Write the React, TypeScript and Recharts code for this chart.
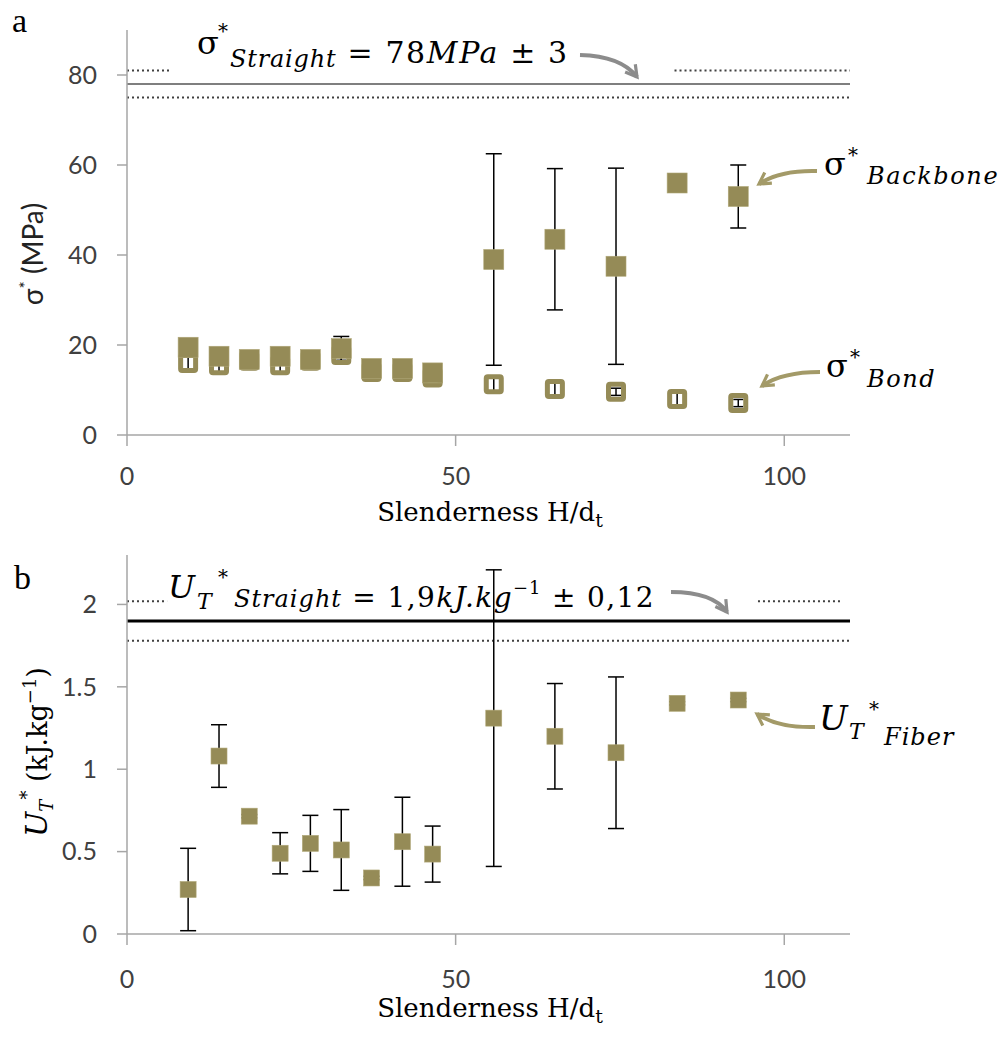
import {
  ErrorBar,
  ReferenceLine,
  Scatter,
  ScatterChart,
  XAxis,
  YAxis,
} from "recharts";

// slenderness H/dt of each specimen series
const slenderness = [9.3, 14.0, 18.6, 23.3, 27.9, 32.6, 37.2, 41.9, 46.5, 55.8, 65.1, 74.4, 83.7, 93.0];

// (a) strength, MPa
const backbone = [19.5, 17.5, 16.8, 17.5, 16.8, 19.2, 14.8, 14.8, 13.8, 39.0, 43.5, 37.5, 56.0, 53.0];
const backboneErr = [1.5, 0.8, 0.5, 0.8, 0.5, 2.7, 0.5, 0.5, 0.5, 23.5, 15.7, 21.8, 0.3, 7.0];
const bond = [16.0, 15.5, 16.5, 15.5, 16.5, 17.8, 14.0, 14.0, 12.8, 11.3, 10.2, 9.6, 8.0, 7.1];
const bondErr = [2.0, 1.5, 0.5, 1.5, 0.5, 1.2, 0.3, 0.3, 0.6, 1.5, 1.3, 0.8, 1.3, 0.8];

// (b) specific energy, kJ/kg
const fiber = [0.27, 1.08, 0.715, 0.49, 0.55, 0.51, 0.34, 0.56, 0.485, 1.31, 1.2, 1.1, 1.4, 1.42];
const fiberErr = [0.25, 0.19, 0.01, 0.125, 0.17, 0.245, 0.01, 0.27, 0.17, 0.9, 0.32, 0.46, 0.01, 0.01];

// straight reference samples (mean, std)
const sigmaStraight = 78;
const sigmaDev = 3;
const energyStraight = 1.9;
const energyDev = 0.12;

const xTicks = [0, 50, 100];
const sigmaTicks = [0, 20, 40, 60, 80];
const energyTicks = [0, 0.5, 1, 1.5, 2];

const GOLD = "#958b57";
const AXIS = { stroke: "#a6a6a6", strokeWidth: 1.5 };
const TICK = { fill: "#404040", fontSize: 25, fontFamily: "Lato" };
const DOT = { stroke: "#404040", strokeWidth: 2, strokeDasharray: "2 3" };

const toPoints = (ys, errs) => slenderness.map((x, i) => ({ x, y: ys[i], err: errs[i] }));

const backboneData = toPoints(backbone, backboneErr);
const bondData = toPoints(bond, bondErr);
const fiberData = toPoints(fiber, fiberErr);

const filledSquare = (size) => (props) => {
  const { cx, cy } = props;
  if (cx == null || cy == null) return <g />;
  return <rect x={cx - size / 2} y={cy - size / 2} width={size} height={size} fill={GOLD} stroke="#b0a777" strokeWidth={0.6} />;
};

const hollowSquare = (props) => {
  const { cx, cy } = props;
  if (cx == null || cy == null) return <g />;
  return <rect x={cx - 7.5} y={cy - 7.5} width={15} height={15} rx={1.5} fill="none" stroke={GOLD} strokeWidth={5} />;
};

function StrengthChart() {
  return (
    <ScatterChart width={1007} height={530} margin={{ top: 30, right: 157, bottom: 35, left: 67 }}>
      <XAxis type="number" dataKey="x" domain={[0, 110]} ticks={xTicks} interval={0}
        axisLine={AXIS} tickLine={AXIS} tickSize={11} tickMargin={21} tick={TICK} height={60} />
      <YAxis type="number" dataKey="y" domain={[0, 90]} ticks={sigmaTicks} interval={0}
        axisLine={AXIS} tickLine={AXIS} tickSize={10} tickMargin={20} tick={TICK} width={60} />
      <ReferenceLine y={sigmaStraight} stroke="#7f7f7f" strokeWidth={2} />
      <ReferenceLine y={sigmaStraight - sigmaDev} {...DOT} />
      <ReferenceLine segment={[{ x: 0, y: sigmaStraight + sigmaDev }, { x: 6.8, y: sigmaStraight + sigmaDev }]} {...DOT} />
      <ReferenceLine segment={[{ x: 83.3, y: sigmaStraight + sigmaDev }, { x: 110, y: sigmaStraight + sigmaDev }]} {...DOT} />
      <Scatter name="Bond" data={bondData} shape={hollowSquare} isAnimationActive={false}>
        <ErrorBar dataKey="err" direction="y" width={5} stroke="#000" strokeWidth={1.5} />
      </Scatter>
      <Scatter name="Backbone" data={backboneData} shape={filledSquare(20)} isAnimationActive={false}>
        <ErrorBar dataKey="err" direction="y" width={8} stroke="#000" strokeWidth={1.5} />
      </Scatter>
    </ScatterChart>
  );
}

function EnergyChart() {
  return (
    <ScatterChart width={1007} height={518} margin={{ top: 35, right: 157, bottom: 44, left: 67 }}>
      <XAxis type="number" dataKey="x" domain={[0, 110]} ticks={xTicks} interval={0}
        axisLine={AXIS} tickLine={AXIS} tickSize={11} tickMargin={25} tick={TICK} height={60} />
      <YAxis type="number" dataKey="y" domain={[0, 2.3]} ticks={energyTicks} interval={0}
        axisLine={AXIS} tickLine={AXIS} tickSize={10} tickMargin={20} tick={TICK} width={60} />
      <ReferenceLine y={energyStraight} stroke="#000" strokeWidth={3} />
      <ReferenceLine y={energyStraight - energyDev} {...DOT} />
      <ReferenceLine segment={[{ x: 0, y: energyStraight + energyDev }, { x: 6.1, y: energyStraight + energyDev }]} {...DOT} />
      <ReferenceLine segment={[{ x: 96, y: energyStraight + energyDev }, { x: 108.7, y: energyStraight + energyDev }]} {...DOT} />
      <Scatter name="Fiber" data={fiberData} shape={filledSquare(16)} isAnimationActive={false}>
        <ErrorBar dataKey="err" direction="y" width={8} stroke="#000" strokeWidth={1.5} />
      </Scatter>
    </ScatterChart>
  );
}

const SERIF = "DejaVu Serif";

function Annotations() {
  return (
    <svg width={1007} height={1038} style={{ position: "absolute", left: 0, top: 0, pointerEvents: "none" }}>
      <defs>
        <marker id="headGray" viewBox="0 0 10 10" refX="8" refY="5" markerWidth="16" markerHeight="16" markerUnits="userSpaceOnUse" orient="auto">
          <path d="M1,1 L8,5 L1,9" fill="none" stroke="#8c8c8c" strokeWidth="2" />
        </marker>
        <marker id="headGold" viewBox="0 0 10 10" refX="8" refY="5" markerWidth="16" markerHeight="16" markerUnits="userSpaceOnUse" orient="auto">
          <path d="M1,1 L8,5 L1,9" fill="none" stroke="#a39a68" strokeWidth="2" />
        </marker>
      </defs>

      <text x={12} y={32} fontFamily="Liberation Serif" fontSize={34}>a</text>
      <text x={14} y={589} fontFamily="Liberation Serif" fontSize={34}>b</text>

      {/* (a) straight reference */}
      <text fontFamily={SERIF} fontSize={30}>
        <tspan x={197} y={54} fontSize={32}>σ</tspan>
        <tspan x={218} y={38} fontSize={20}>*</tspan>
        <tspan x={230} y={67} fontSize={24} fontStyle="italic" letterSpacing={0.8}>Straight</tspan>
        <tspan y={63} letterSpacing={1.6}> = 78</tspan>
        <tspan fontStyle="italic" letterSpacing={1.6}>MPa</tspan>
        <tspan letterSpacing={1.6}> ± 3</tspan>
      </text>
      <path d="M580,55 Q621,56 637,77" fill="none" stroke="#8c8c8c" strokeWidth={4} markerEnd="url(#headGray)" />

      <text fontFamily={SERIF}>
        <tspan x={824} y={175} fontSize={32}>σ</tspan>
        <tspan x={848} y={162} fontSize={20}>*</tspan>
        <tspan x={867} y={184} fontSize={24} fontStyle="italic" letterSpacing={1.6}>Backbone</tspan>
      </text>
      <path d="M817,171 Q780,170 759,184" fill="none" stroke="#a39a68" strokeWidth={4} markerEnd="url(#headGold)" />

      <text fontFamily={SERIF}>
        <tspan x={826} y={377} fontSize={32}>σ</tspan>
        <tspan x={850} y={364} fontSize={20}>*</tspan>
        <tspan x={867} y={387} fontSize={24} fontStyle="italic" letterSpacing={1.6}>Bond</tspan>
      </text>
      <path d="M820,372 Q782,372 762,386" fill="none" stroke="#a39a68" strokeWidth={4} markerEnd="url(#headGold)" />

      {/* (b) straight reference */}
      <text fontFamily={SERIF} fontSize={28}>
        <tspan x={168} y={598} fontSize={32} fontStyle="italic">U</tspan>
        <tspan x={197} y={609} fontSize={22} fontStyle="italic">T</tspan>
        <tspan x={218} y={584} fontSize={20}>*</tspan>
        <tspan x={234} y={607} fontSize={24} fontStyle="italic" letterSpacing={1}>Straight</tspan>
        <tspan letterSpacing={1.4}> = 1,9</tspan>
        <tspan fontStyle="italic" letterSpacing={1.4}>kJ.kg</tspan>
        <tspan y={594} fontSize={18} letterSpacing={1}>−1</tspan>
        <tspan y={607} letterSpacing={1.4}> ± 0,12</tspan>
      </text>
      <path d="M671,592 Q713,592 727,612" fill="none" stroke="#8c8c8c" strokeWidth={4} markerEnd="url(#headGray)" />

      <text fontFamily={SERIF}>
        <tspan x={819} y={730} fontSize={34} fontStyle="italic">U</tspan>
        <tspan x={849} y={739} fontSize={22} fontStyle="italic">T</tspan>
        <tspan x={869} y={716} fontSize={20}>*</tspan>
        <tspan x={884} y={745} fontSize={24} fontStyle="italic" letterSpacing={1}>Fiber</tspan>
      </text>
      <path d="M815,727 Q778,728 757,714" fill="none" stroke="#a39a68" strokeWidth={4} markerEnd="url(#headGold)" />

      {/* axis titles */}
      <text x={490} y={521} textAnchor="middle" fontFamily={SERIF} fontSize={26}>
        Slenderness H/d<tspan fontSize={19} dy={6}>t</tspan>
      </text>
      <text x={490} y={1017} textAnchor="middle" fontFamily={SERIF} fontSize={26}>
        Slenderness H/d<tspan fontSize={19} dy={6}>t</tspan>
      </text>
      <text transform="translate(43,254) rotate(-90)" textAnchor="middle" fontFamily="Lato" fontSize={28} fill="#222">
        σ<tspan fontSize={17} dy={-11}>*</tspan><tspan dy={11}> (MPa)</tspan>
      </text>
      <text transform="translate(47,752) rotate(-90)" textAnchor="middle" fontFamily={SERIF} fontSize={27}>
        <tspan fontStyle="italic" fontSize={30}>U</tspan><tspan fontStyle="italic" fontSize={18} dy={6}>T</tspan><tspan fontSize={18} dy={-20}>*</tspan><tspan dy={14}> (kJ.kg</tspan><tspan fontSize={18} dy={-11}>−1</tspan><tspan dy={11}>)</tspan>
      </text>
    </svg>
  );
}

export default function App() {
  return (
    <div style={{ position: "absolute", left: 0, top: 0, width: 1007, height: 1038, background: "#fff" }}>
      <div style={{ position: "absolute", left: 0, top: 0 }}>
        <StrengthChart />
      </div>
      <div style={{ position: "absolute", left: 0, top: 520 }}>
        <EnergyChart />
      </div>
      <Annotations />
    </div>
  );
}
